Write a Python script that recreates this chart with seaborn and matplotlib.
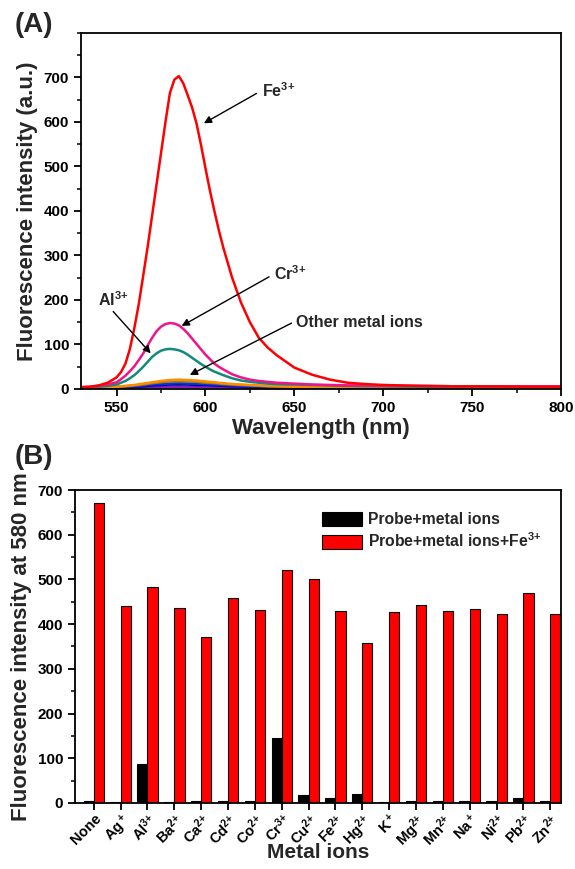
import matplotlib
matplotlib.use("Agg")
import matplotlib.pyplot as plt
import seaborn as sns
import pandas as pd

# ── Dados ────────────────────────────────────────────────────────────────────

# (A) espectros de emissão: Fe3+, Cr3+, Al3+ (grade mais fina no pico)
wavelength_main = [530, 535, 540, 545, 550, 552.5, 555, 557.5, 560, 562.5, 565,
                   567.5, 570, 572.5, 575, 577.5, 580, 582.5, 585, 587.5, 590,
                   592.5, 595, 597.5, 600, 602.5, 605, 607.5, 610, 615, 620,
                   625, 630, 635, 640, 650, 660, 670, 680, 690, 700, 720, 740,
                   760, 780, 800]

fe3 = [4, 5, 8, 14, 26, 38, 57, 90, 137, 191, 255, 320, 390, 460, 530, 600,
       665, 695, 703, 687, 660, 632, 596, 548, 496, 446, 400, 357, 318, 250,
       194, 150, 115, 93, 76, 48, 32, 21, 14, 11, 9, 7, 6, 6, 5, 5]
cr3 = [4, 5, 7, 10, 15, 22, 30, 40, 51, 65, 80, 98, 115, 130, 140, 146, 148,
       147, 143, 135, 125, 113, 101, 89, 77, 67, 57, 50, 44, 33, 26, 21, 18,
       16, 14, 12, 10, 9, 8, 8, 7, 7, 6, 6, 6, 6]
al3 = [3, 4, 5, 7, 10, 14, 18, 24, 31, 40, 50, 61, 72, 80, 86, 89, 90, 89, 87,
       83, 77, 70, 63, 56, 50, 44, 39, 35, 31, 24, 19, 16, 14, 12, 11, 10, 9,
       8, 7, 6, 6, 5, 5, 5, 5, 5]

# demais íons (curvas baixas)
wavelength = [530, 535, 540, 545, 550, 555, 560, 565, 570, 575, 580, 585, 590,
              595, 600, 605, 610, 615, 620, 625, 630, 635, 640, 650, 660, 670,
              680, 690, 700, 720, 740, 760, 780, 800]
other_orange = [3, 3, 4, 4, 5, 7, 9, 12, 15, 18, 20, 21, 20, 19, 17, 15, 13, 11,
                10, 9, 8, 7, 6, 5, 5, 4, 4, 4, 4, 4, 3, 3, 3, 3]
other_olive = [3, 3, 3, 4, 5, 6, 8, 10, 13, 15, 17, 17, 17, 16, 14, 13, 11, 10,
               9, 8, 7, 6, 6, 5, 4, 4, 4, 4, 3, 3, 3, 3, 3, 3]
other_blue = [2, 2, 3, 3, 4, 5, 6, 8, 10, 11, 12, 13, 12, 12, 11, 10, 9, 8, 7,
              6, 6, 5, 5, 4, 4, 3, 3, 3, 3, 3, 3, 3, 3, 3]
other_navy = [2, 2, 2, 3, 3, 4, 5, 6, 8, 9, 10, 10, 10, 9, 9, 8, 7, 6, 6, 5, 5,
              4, 4, 4, 3, 3, 3, 3, 3, 3, 3, 3, 3, 3]
other_violet = [2, 2, 2, 2, 3, 3, 3, 4, 4, 5, 5, 5, 5, 5, 5, 4, 4, 4, 4, 3, 3,
                3, 3, 3, 3, 3, 3, 3, 3, 3, 3, 3, 3, 3]

# (B) intensidade a 580 nm
ions = ["None", "Ag$^+$", "Al$^{3{+}}$", "Ba$^{2{+}}$", "Ca$^{2{+}}$",
        "Cd$^{2{+}}$", "Co$^{2{+}}$", "Cr$^{3{+}}$", "Cu$^{2{+}}$",
        "Fe$^{2{+}}$", "Hg$^{2{+}}$", "K$^+$", "Mg$^{2{+}}$", "Mn$^{2{+}}$",
        "Na$^+$", "Ni$^{2{+}}$", "Pb$^{2{+}}$", "Zn$^{2{+}}$"]
probe_metal = [4, 3, 88, 3, 4, 5, 4, 145, 17, 12, 19, 3, 4, 4, 4, 5, 10, 4]
probe_metal_fe = [670, 441, 483, 435, 372, 459, 431, 520, 502, 430, 357, 427,
                  442, 429, 433, 423, 469, 422]

SERIES = ["Probe+metal ions", "Probe+metal ions+Fe$^{3{+}}$"]

# ── Estilo ───────────────────────────────────────────────────────────────────

sns.set_theme(style="ticks")
plt.rcParams.update({
    "font.family": ["Liberation Sans", "DejaVu Sans"],
    "font.weight": "bold",
    "axes.labelweight": "bold",
    "mathtext.fontset": "custom",
    "mathtext.rm": "Liberation Sans:bold",
    "mathtext.it": "Liberation Sans:bold",
    "mathtext.bf": "Liberation Sans:bold",
    "mathtext.default": "rm",
    "axes.linewidth": 1.3,
    "xtick.major.width": 1.3,
    "ytick.major.width": 1.3,
    "xtick.minor.width": 1.1,
    "ytick.minor.width": 1.1,
    "xtick.major.size": 5,
    "ytick.major.size": 5,
    "xtick.minor.size": 3,
    "ytick.minor.size": 3,
    "xtick.direction": "out",
    "ytick.direction": "out",
    "xtick.color": "black",
    "ytick.color": "black",
    "axes.edgecolor": "black",
})

fig = plt.figure(figsize=(5.75, 8.69), dpi=100)

# ── (A) ──────────────────────────────────────────────────────────────────────

ax1 = fig.add_axes([0.1409, 0.5524, 0.8348, 0.4097])

others = {
    "violet": other_violet, "navy": other_navy, "blue": other_blue,
    "olive": other_olive, "orange": other_orange,
}
main = {"Al": al3, "Cr": cr3, "Fe": fe3}
colors = {
    "violet": "#8020c0", "navy": "#000080", "blue": "#0030ff",
    "olive": "#a08000", "orange": "#ff8c00",
    "Al": "#12897f", "Cr": "#f0148c", "Fe": "#ff0000",
}
rows = [(k, w, v) for k, vals in others.items() for w, v in zip(wavelength, vals)]
rows += [(k, w, v) for k, vals in main.items()
         for w, v in zip(wavelength_main, vals)]
spec = pd.DataFrame(rows, columns=["ion", "wl", "intensity"])
sns.lineplot(data=spec, x="wl", y="intensity", hue="ion",
             hue_order=list(others) + list(main), palette=colors, lw=1.8,
             legend=False, ax=ax1)

ax1.set_xlim(530, 800)
ax1.set_ylim(0, 800)
ax1.set_xticks(range(550, 801, 50))
ax1.set_xticks(range(550, 801, 25), minor=True)
ax1.set_yticks(range(0, 701, 100))
ax1.set_yticks(range(0, 801, 50), minor=True)
ax1.tick_params(labelsize=11)
ax1.set_xlabel("Wavelength (nm)", fontsize=16, labelpad=2)
ax1.set_ylabel("Fluorescence intensity (a.u.)", fontsize=16, labelpad=4)

arrow = dict(arrowstyle="-|>", color="black", lw=1.0, mutation_scale=11,
             shrinkA=0, shrinkB=0)
notes = [
    ("Fe$^{3{+}}$", (632, 657), (628.7, 664), (599.1, 597)),
    ("Cr$^{3{+}}$", (638.6, 245), (635.8, 252), (586.6, 141.6)),
    ("Al$^{3{+}}$", (539.7, 187), (548.1, 174), (569.2, 80)),
    ("Other metal ions", (651.2, 140), (648.4, 148), (591.2, 31.5)),
]
for label, txt, tail, head in notes:
    ax1.text(*txt, label, fontsize=11.5, fontweight="bold", va="baseline")
    ax1.annotate("", xy=head, xytext=tail, arrowprops=arrow)

fig.text(0.026, 0.971, "(A)", fontsize=20, fontweight="bold", va="center")

# ── (B) ──────────────────────────────────────────────────────────────────────

ax2 = fig.add_axes([0.1304, 0.0760, 0.8452, 0.3601])

bars = pd.DataFrame({
    "ion": ions * 2,
    "value": probe_metal + probe_metal_fe,
    "serie": [SERIES[0]] * len(ions) + [SERIES[1]] * len(ions),
})
sns.barplot(data=bars, x="ion", y="value", hue="serie", hue_order=SERIES,
            palette=["black", "#ff0000"], width=0.76, edgecolor="black",
            linewidth=0.8, saturation=1, errorbar=None, ax=ax2)

ax2.set_xlim(-0.7, 17.4)
ax2.set_ylim(0, 700)
ax2.set_yticks(range(0, 701, 100))
ax2.set_yticks(range(0, 701, 50), minor=True)
ax2.tick_params(axis="y", labelsize=11)
ax2.tick_params(axis="x", labelsize=10.5, pad=1)
ax2.tick_params(axis="x", which="minor", bottom=False)
plt.setp(ax2.get_xticklabels(), rotation=45, ha="right",
         rotation_mode="anchor")
ax2.set_xlabel("Metal ions", fontsize=15)
ax2.xaxis.set_label_coords(0.5, -0.158)
ax2.xaxis.label.set_va("center")
ax2.set_ylabel("Fluorescence intensity at 580 nm", fontsize=16, labelpad=4)
ax2.legend(loc="upper left", bbox_to_anchor=(0.48, 0.975), frameon=False,
           fontsize=11.3, handlelength=2.5, handleheight=1.0,
           labelspacing=0.25, handletextpad=0.4)

fig.text(0.026, 0.474, "(B)", fontsize=20, fontweight="bold", va="center")

fig.savefig("out.png", dpi=100)
